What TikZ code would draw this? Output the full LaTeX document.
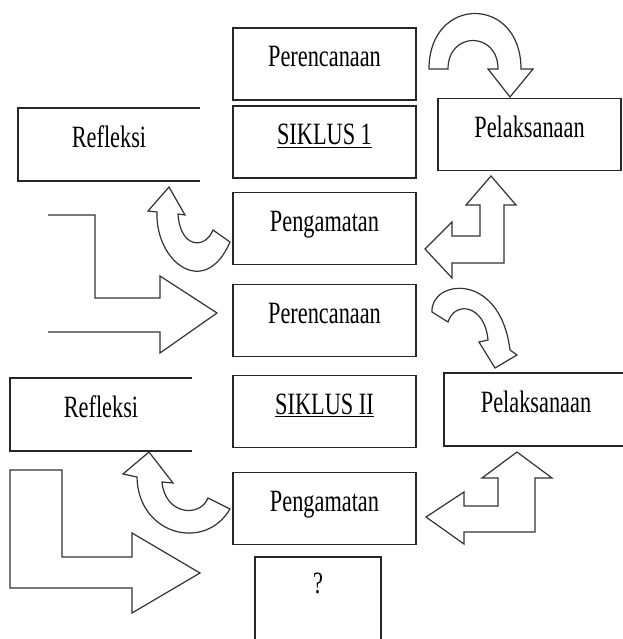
\documentclass[tikz,border=0pt]{standalone}
\usepackage{fontspec}
\setmainfont{Liberation Serif}[FakeStretch=0.72]
\begin{document}
\begin{tikzpicture}[x=1pt,y=-1pt,
  txt/.style={inner sep=0pt, outer sep=0pt, text height=20pt, text depth=14pt, font=\fontsize{31}{36}\selectfont},
  box/.style={txt, draw=black!85, line width=1.6pt, minimum width=183pt, minimum height=72pt},
  openbox/.style={txt, minimum width=182pt, minimum height=73pt},
  side/.style={draw=black!85, line width=1.6pt},
  arr/.style={draw=black!80, line width=1.2pt, fill=white, line join=miter}]
\useasboundingbox (0,0) rectangle (622,639);
% centre column
\node[box] (per1) at (324.5,64) {Perencanaan};
\node[box] (sik1) at (324.5,142) {\underline{SIKLUS 1}};
\node[box] (pen1) at (324.5,228.5) {Pengamatan};
\node[box] (per2) at (324.5,320.5) {Perencanaan};
\node[box] (sik2) at (324.5,411.5) {\underline{SIKLUS II}};
\node[box] (pen2) at (324.5,508.5) {Pengamatan};
% right column
\node[box, minimum width=183pt] (pel1) at (529.5,134.5) {Pelaksanaan};
\node[openbox, minimum width=184pt] (pel2) at (536,409.5) {Pelaksanaan};
\path[side] (pel2.north east) -- (pel2.north west) -- (pel2.south west) -- (pel2.south east);
% left column
\node[openbox] (ref1) at (109,144.5) {Refleksi};
\path[side] (ref1.north east) -- (ref1.north west) -- (ref1.south west) -- (ref1.south east);
\node[openbox] (ref2) at (101,414.5) {Refleksi};
\path[side] (ref2.north east) -- (ref2.north west) -- (ref2.south west) -- (ref2.south east);
% question box
\node[inner sep=0pt, minimum width=126pt, minimum height=90pt] (q) at (318,602) {};
\path[side] (q.south west) -- (q.north west) -- (q.north east) -- (q.south east);
\node[anchor=base, inner sep=0pt, font=\fontsize{31}{36}\selectfont] (qt) at (318,593) {?};
% big bent arrows on the left
\draw[arr] (48,215) -- (95,215) -- (95,298) -- (160,298) -- (160,276) -- (217,313) -- (160,353) -- (160,332) -- (48,332);
\draw[arr] (10,470) -- (62,470) -- (62,557) -- (132,557) -- (132,533) -- (200,573) -- (132,613) -- (132,588) -- (10,588) -- cycle;
% curved arrows to Refleksi
\draw[arr] (157,212) .. controls (155,262) and (205,300) .. (230,242) -- (213,230)
  .. controls (205,250) and (180,248) .. (178,214) -- (185,215) -- (169,187) -- (148,211) -- cycle;
\draw[arr] (137,477) .. controls (138,535) and (205,552) .. (230,509) -- (208,498)
  .. controls (200,518) and (165,515) .. (162,482) -- (173,483) -- (149,452) -- (123,474) -- cycle;
% curved arrows to Pelaksanaan
\draw[arr] (429,69) .. controls (429,-5) and (521,-5) .. (521,69) -- (533,69) -- (510,97) -- (488,69) -- (498,69)
  .. controls (498,31) and (448,31) .. (448,69) -- cycle;
\draw[arr] (432,312) .. controls (430,280) and (500,270) .. (510,350) -- (517,355) -- (495,368) -- (479,342) -- (488,340)
  .. controls (485,305) and (455,300) .. (448,322) -- cycle;
% left-up arrows
\draw[arr] (491,176) -- (516,205) -- (504,205) -- (504,263) -- (452,263) -- (452,278) -- (425,249) -- (452,222) -- (452,236) -- (480,236) -- (480,205) -- (466,205) -- cycle;
\draw[arr] (517,452) -- (552,478) -- (535,478) -- (535,532) -- (464,532) -- (464,544) -- (426,517) -- (464,492) -- (464,506) -- (498,506) -- (498,478) -- (482,478) -- cycle;
\end{tikzpicture}
\end{document}
